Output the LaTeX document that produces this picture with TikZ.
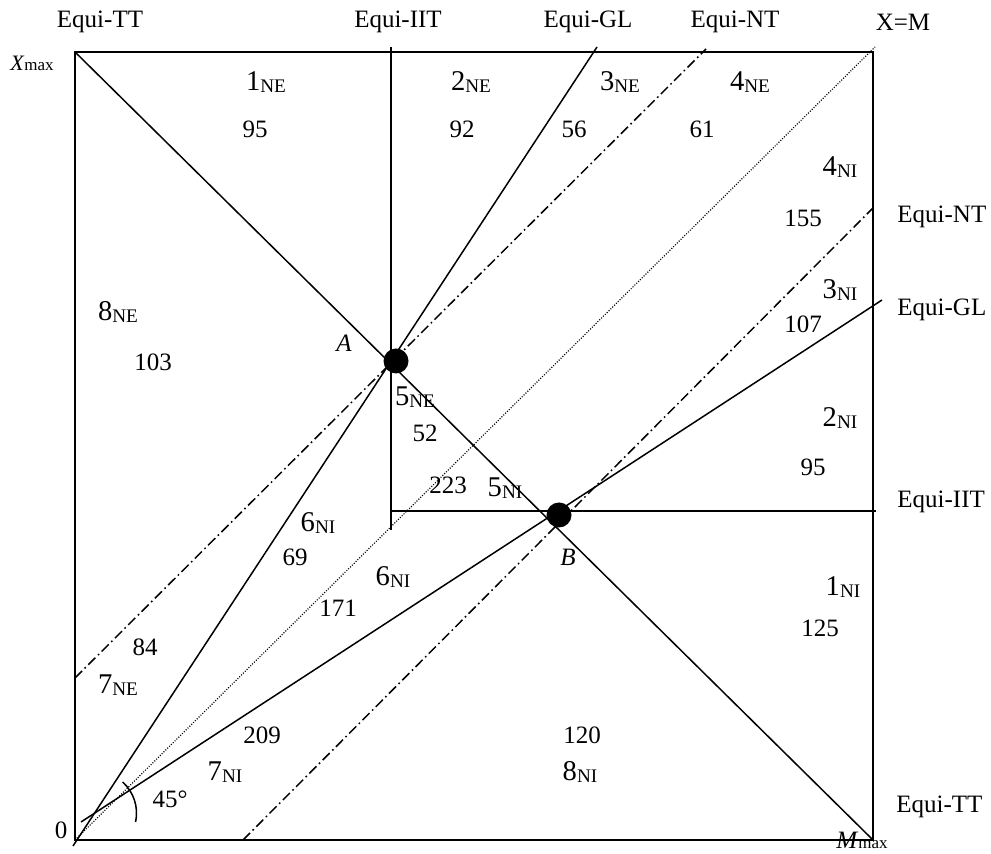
\documentclass[tikz,border=0pt]{standalone}
\usepackage{fontspec}
\setmainfont{Liberation Serif}
\tikzset{
    frame/.style={line width=1pt},
    equi/.style={line width=0.75pt},
    dashdot/.style={line width=0.75pt, dash pattern=on 5pt off 1.8pt on 0.8pt off 1.8pt},
    diag45/.style={line width=0.6pt, dash pattern=on 0.5pt off 0.8pt},
    num/.style={inner sep=0pt, font=\fontsize{12.5}{14}\selectfont},
    zone/.style={inner sep=0pt, font=\fontsize{14.3}{16}\selectfont},
    axlbl/.style={inner sep=0pt, font=\fontsize{12.5}{14}\selectfont},
    eqpt/.style={circle, fill=black, inner sep=0pt, minimum size=12.5pt},
}
\newcommand{\zsub}[2]{#1\raisebox{-0.9pt}{\fontsize{9.6}{10}\selectfont #2}}
\newcommand{\maxsub}[1]{\textit{#1}{\fontsize{8.5}{9}\selectfont max}}

\begin{document}
\begin{tikzpicture}[x=0.5pt, y=-0.5pt]
        \useasboundingbox (0,0) rectangle (991,854);

        % Rahmen
        \coordinate (O)  at (75,840);
        \coordinate (Xm) at (75,52);
        \coordinate (Mm) at (873,840);
        \coordinate (C)  at (873,52);
        \draw[frame] (O) rectangle (C);

        % Endpunkte der Linien
        \coordinate (iitT) at (391,47);
        \coordinate (iitB) at (391,530);
        \coordinate (iitL) at (391,511);
        \coordinate (iitR) at (876,511);
        \coordinate (glA0) at (73,846);
        \coordinate (glA1) at (597,47);
        \coordinate (glB0) at (81,822);
        \coordinate (glB1) at (882,300);
        \coordinate (ntA0) at (75,678);
        \coordinate (ntA1) at (706,49);
        \coordinate (ntB0) at (243,840);
        \coordinate (ntB1) at (873,208);
        \coordinate (xm1)  at (875,47);

        % Equi-Linien
        \draw[equi] (Xm) -- (Mm);
        \draw[equi] (iitT) -- (iitB);
        \draw[equi] (iitL) -- (iitR);
        \draw[equi] (glA0) -- (glA1);
        \draw[equi] (glB0) -- (glB1);
        \draw[dashdot] (ntA0) -- (ntA1);
        \draw[dashdot] (ntB0) -- (ntB1);
        \draw[diag45] (O) -- (xm1);

        % Winkel
        \coordinate (G) at (intersection of glA0--glA1 and glB0--glB1);
        \draw[equi] ([shift={(-12:21pt)}]G) arc[start angle=-12, end angle=48, radius=21pt];
        \node[num] (ang) at (170,799) {45°};

        % Punkte A und B
        \node[eqpt] (A) at (396,361) {};
        \node[eqpt] (B) at (559,515) {};
        \node[num, font=\fontsize{12.5}{14}\selectfont\itshape] (lblA) at (344,343) {A};
        \node[num, font=\fontsize{12.5}{14}\selectfont\itshape] (lblB) at (568,557) {B};

        % Achsen
        \node[axlbl] (xmax) at (32,63) {\fontsize{11}{13}\selectfont\maxsub{X}};
        \node[axlbl] (zero) at (61,830) {0};
        \node[axlbl, anchor=base] (mmax) at (862,849) {\maxsub{M}};

        % Beschriftung oben
        \node[axlbl] (ttTop)  at (100,22) {Equi-TT};
        \node[axlbl] (iitTop) at (398,22) {Equi-IIT};
        \node[axlbl] (glTop)  at (588,22) {Equi-GL};
        \node[axlbl] (ntTop)  at (735,22) {Equi-NT};
        \node[axlbl] (xmTop)  at (903,22) {X=M};

        % Beschriftung rechts
        \node[axlbl, anchor=west] (ntRight)  at (897,217) {Equi-NT};
        \node[axlbl, anchor=west] (glRight)  at (897,310) {Equi-GL};
        \node[axlbl, anchor=west] (iitRight) at (897,502) {Equi-IIT};
        \node[axlbl, anchor=west] (ttRight)  at (896,807) {Equi-TT};

        % Zonen
        \node[zone] (z1ne) at (266,82)  {\zsub{1}{NE}};
        \node[num]  (n1ne) at (255,129) {95};
        \node[zone] (z2ne) at (471,82)  {\zsub{2}{NE}};
        \node[num]  (n2ne) at (462,129) {92};
        \node[zone] (z3ne) at (620,82)  {\zsub{3}{NE}};
        \node[num]  (n3ne) at (574,129) {56};
        \node[zone] (z4ne) at (750,82)  {\zsub{4}{NE}};
        \node[num]  (n4ne) at (702,129) {61};
        \node[zone] (z4ni) at (840,167) {\zsub{4}{NI}};
        \node[num]  (n4ni) at (803,218) {155};
        \node[zone] (z3ni) at (840,290) {\zsub{3}{NI}};
        \node[num]  (n3ni) at (803,324) {107};
        \node[zone] (z2ni) at (840,418) {\zsub{2}{NI}};
        \node[num]  (n2ni) at (813,467) {95};
        \node[zone] (z1ni) at (843,587) {\zsub{1}{NI}};
        \node[num]  (n1ni) at (820,628) {125};
        \node[zone] (z8ne) at (118,312) {\zsub{8}{NE}};
        \node[num]  (n8ne) at (153,362) {103};
        \node[zone] (z5ne) at (415,397) {\zsub{5}{NE}};
        \node[num]  (n5ne) at (425,433) {52};
        \node[num]  (n5x)  at (448,485) {223};
        \node[zone] (z5ni) at (505,488) {\zsub{5}{NI}};
        \node[zone] (z6a)  at (318,523) {\zsub{6}{NI}};
        \node[num]  (n6a)  at (295,557) {69};
        \node[zone] (z6b)  at (393,577) {\zsub{6}{NI}};
        \node[num]  (n6b)  at (338,608) {171};
        \node[num]  (n7ne) at (145,647) {84};
        \node[zone] (z7ne) at (118,685) {\zsub{7}{NE}};
        \node[num]  (n7ni) at (262,735) {209};
        \node[zone] (z7ni) at (225,772) {\zsub{7}{NI}};
        \node[num]  (n8ni) at (582,735) {120};
        \node[zone] (z8ni) at (580,772) {\zsub{8}{NI}};
    \end{tikzpicture}
\end{document}
